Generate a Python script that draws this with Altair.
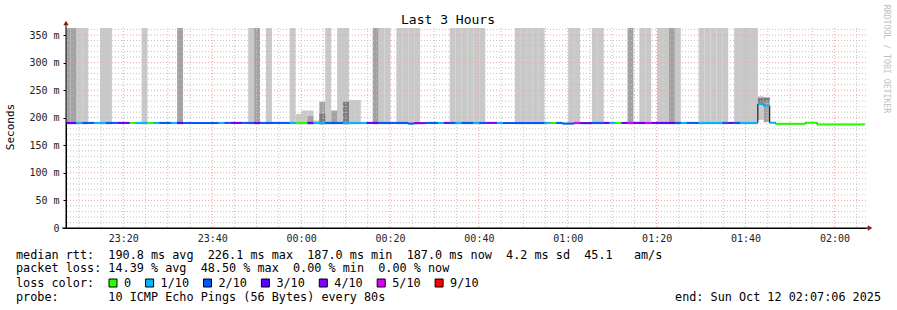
import altair as alt
import pandas as pd

# ---------------- data ----------------
RANGE_START = "2025-10-11 23:07:06"
RANGE_END = "2025-10-12 02:07:06"
STEP_ZERO = "2025-10-11 23:08:06"   # an 80 s rrd step boundary
STEP_SECONDS = 80
LAST_STEP = 134

LOSS_LABELS = ["0", "1/10", "2/10", "3/10", "4/10", "5/10", "9/10"]
LOSS_COLORS = ["#26ff00", "#00b8ff", "#0059ff", "#5e00ff", "#7e00ff", "#dd00ff", "#ff0000"]

# median rtt segments: first step index, loss, median (ms)
seg_step = [-1, 1, 2, 4, 6, 8, 10, 11, 13, 14, 15, 17, 18, 19, 25, 26, 27, 29, 31, 32,
            37, 38, 40, 41, 43, 46, 50, 52, 57, 58, 60, 62, 63, 64, 65, 66, 68, 69, 70, 72,
            73, 80, 81, 82, 83, 85, 86, 88, 90, 91, 92, 93, 94, 95, 97, 98, 102, 103, 104, 106,
            110, 111, 112, 113, 116, 117, 118, 119, 124, 126]
seg_loss = ["3/10", "1/10", "2/10", "1/10", "2/10", "3/10", "0", "1/10", "0", "1/10",
            "2/10", "1/10", "3/10", "2/10", "1/10", "2/10", "3/10", "2/10", "3/10", "2/10",
            "1/10", "0", "3/10", "1/10", "2/10", "1/10", "3/10", "2/10", "2/10", "4/10",
            "2/10", "1/10", "3/10", "2/10", "1/10", "2/10", "1/10", "2/10", "4/10", "1/10",
            "2/10", "1/10", "0", "2/10", "2/10", "5/10", "3/10", "2/10", "3/10", "1/10",
            "0", "3/10", "5/10", "3/10", "5/10", "3/10", "2/10", "1/10", "2/10", "1/10",
            "2/10", "3/10", "2/10", "1/10", "1/10", "1/10", "1/10", "0", "0", "0"]
seg_ms = [190.6, 190.6, 190.6, 190.6, 190.6, 190.6, 190.6, 190.6, 190.6, 190.6,
          190.6, 190.6, 190.6, 190.6, 190.6, 190.6, 190.6, 190.6, 190.6, 190.6,
          190.6, 190.6, 190.6, 190.6, 190.6, 190.6, 190.6, 190.6, 189.4, 190.2,
          190.6, 190.6, 190.6, 190.6, 190.6, 190.6, 190.6, 190.6, 190.6, 190.6,
          190.6, 190.6, 190.6, 190.6, 189.4, 190.6, 190.2, 190.6, 190.6, 190.6,
          190.6, 190.6, 190.6, 190.6, 190.6, 190.6, 190.6, 190.6, 190.6, 190.6,
          190.6, 190.6, 190.6, 190.6, 225.0, 222.0, 191.0, 189.0, 191.0, 187.8]

# smoke bands: step index, low (ms), high (ms), shade  (high 400 = off the top)
smoke_step = [-1, 0, 1, 2, 5, 6, 12, 18, 30, 31, 33, 37, 38, 39, 40, 40, 41, 42, 42, 43,
              44, 45, 46, 46, 47, 48, 51, 52, 53, 55, 56, 57, 58, 64, 65, 66, 67, 68, 69,
              75, 76, 77, 78, 79, 84, 85, 88, 89, 94, 96, 97, 99, 100, 101, 102,
              106, 107, 108, 109, 110, 112, 113, 114, 115, 116, 116, 117, 117]
smoke_lo = [188, 188, 188, 188, 188, 188, 188, 188, 188, 188, 188, 188, 188, 188, 188, 188, 188, 188, 188, 188,
            188, 188, 188, 188, 188, 188, 188, 188, 188, 188, 188, 188, 188, 188, 188, 188, 188, 188, 188,
            188, 188, 188, 188, 188, 188, 188, 188, 188, 188, 188, 188, 188, 188, 188, 188,
            188, 188, 188, 188, 188, 188, 188, 188, 188, 196, 227, 192, 228]
smoke_hi = [400, 400, 400, 400, 400, 400, 400, 400, 400, 400, 400, 400, 207, 213, 213, 203, 195, 229, 207, 400,
            213, 400, 400, 229, 232, 232, 400, 400, 400, 400, 400, 400, 400, 400, 400, 400, 400, 400, 400,
            400, 400, 400, 400, 400, 400, 400, 400, 400, 400, 400, 400, 400, 400, 400, 400,
            400, 400, 400, 400, 400, 400, 400, 400, 400, 239, 236, 237, 236]
smoke_shade = ["mid", "mid", "light", "light", "light", "light", "light", "mid", "light", "mid",
               "light", "light", "light", "light", "light", "mid", "light", "mid", "dark", "light",
               "mid", "light", "light", "dark", "light", "light", "mid", "light", "light", "light",
               "light", "light", "light", "light", "light", "light", "light", "light", "light",
               "light", "light", "light", "light", "light", "light", "light", "light", "light", "mid",
               "light", "light", "light", "light", "mid", "light",
               "light", "light", "light", "light", "light", "light", "light", "light", "light",
               "light", "dark", "mid", "dark"]

SHADES = ["light", "mid", "dark"]
SHADE_COLORS = ["#c9c9c9", "#a2a2a2", "#7d7d7d"]

Y_TOP = 362.7
Y_TICKS = [0, 50, 100, 150, 200, 250, 300, 350]

TITLE = "Last 3 Hours"
Y_TITLE = "Seconds"
WATERMARK = "RRDTOOL / TOBI OETIKER"
LINE_RTT = "median rtt:  190.8 ms avg  226.1 ms max  187.0 ms min  187.0 ms now  4.2 ms sd  45.1   am/s"
LINE_LOSS = "packet loss: 14.39 % avg  48.50 % max  0.00 % min  0.00 % now"
LINE_LOSSCOLOR = "loss color:"
LINE_PROBE = "probe:       10 ICMP Echo Pings (56 Bytes) every 80s"
LINE_END = "end: Sun Oct 12 02:07:06 2025"

# ---------------- tables ----------------
t_zero = pd.Timestamp(STEP_ZERO, tz="UTC")


def ms_of(ts):
    return int(pd.Timestamp(ts).value // 10**6)


def step_time(k):
    return ms_of(t_zero + pd.Timedelta(seconds=STEP_SECONDS * k))


ends = seg_step[1:] + [LAST_STEP]
med = pd.DataFrame({
    "t0": [step_time(k) for k in seg_step],
    "t1": [step_time(k) for k in ends],
    "ms": seg_ms,
    "loss": seg_loss,
})
line_pts = pd.concat([med[["t0", "ms"]],
                      pd.DataFrame({"t0": [step_time(LAST_STEP)], "ms": [seg_ms[-1]]})],
                     ignore_index=True)

smoke = pd.DataFrame({
    "t0": [step_time(k) for k in smoke_step],
    "t1": [step_time(k + 1) for k in smoke_step],
    "lo": smoke_lo,
    "hi": smoke_hi,
    "shade": smoke_shade,
})
smoke["rank"] = smoke["shade"].map({s: i for i, s in enumerate(SHADES)})
smoke = smoke.sort_values("rank", kind="stable")

minor_t = pd.date_range("2025-10-11 23:10", "2025-10-12 02:05", freq="5min", tz="UTC")
major_t = pd.date_range("2025-10-11 23:20", "2025-10-12 02:00", freq="20min", tz="UTC")
major_ms = [ms_of(t) for t in major_t]
vgrid_minor = pd.DataFrame({"t": [ms_of(t) for t in minor_t if ms_of(t) not in major_ms]})
vgrid_major = pd.DataFrame({"t": major_ms})
hgrid_minor = pd.DataFrame({"v": [v for v in range(10, 361, 10) if v % 50]})
hgrid_major = pd.DataFrame({"v": list(range(50, 351, 50))})

# ---------------- encodings ----------------
FONT = "DejaVu Sans Mono"
CHAR_W = 7.1
x_dom = [ms_of(pd.Timestamp(RANGE_START, tz="UTC")), ms_of(pd.Timestamp(RANGE_END, tz="UTC"))]

xscale = alt.Scale(type="utc", domain=x_dom, nice=False)
yscale = alt.Scale(domain=[0, Y_TOP], nice=False, zero=True)
xaxis = alt.Axis(labelExpr="utcFormat(datum.value, '%H:%M')", values=major_ms, grid=False,
                 tickSize=0, labelPadding=5, labelFont=FONT, labelFontSize=10, labelColor="#222",
                 domainColor="#000", domainWidth=1, labelFlush=False)
yaxis = alt.Axis(values=Y_TICKS, labelExpr="datum.value == 0 ? '0' : datum.value + ' m'",
                 grid=False, tickSize=3, tickColor="#000", labelPadding=4, labelFont=FONT,
                 labelFontSize=10, labelColor="#222", domainColor="#000", domainWidth=1)


def X(field):
    return alt.X(field, type="temporal", scale=xscale, axis=xaxis, title=None)


def Y(field):
    return alt.Y(field, type="quantitative", scale=yscale, axis=yaxis, title=None)


smoke_layer = alt.Chart(smoke).mark_rect(clip=True).encode(
    x=X("t0"), x2="t1", y=Y("lo"), y2="hi",
    color=alt.Color("shade:N", scale=alt.Scale(domain=SHADES, range=SHADE_COLORS), legend=None),
)

vminor = alt.Chart(vgrid_minor).mark_rule(stroke="#c4c4c4", strokeDash=[1, 2], strokeWidth=1).encode(x=X("t"))
vmajor = alt.Chart(vgrid_major).mark_rule(stroke="#f2a0a0", strokeDash=[1, 2], strokeWidth=1).encode(x=X("t"))
hminor = alt.Chart(hgrid_minor).mark_rule(stroke="#c4c4c4", strokeDash=[1, 2], strokeWidth=1).encode(y=Y("v"))
hmajor = alt.Chart(hgrid_major).mark_rule(stroke="#f2a0a0", strokeDash=[1, 2], strokeWidth=1).encode(y=Y("v"))

step_line = alt.Chart(line_pts).mark_line(interpolate="step-after", stroke="#000",
                                           strokeWidth=1, clip=True).encode(x=X("t0"), y=Y("ms"))

median_layer = alt.Chart(med).mark_rule(strokeWidth=2, strokeCap="butt", clip=True).encode(
    x=X("t0"), x2="t1", y=Y("ms"),
    stroke=alt.Stroke("loss:N", scale=alt.Scale(domain=LOSS_LABELS, range=LOSS_COLORS), legend=None),
)

dummy = pd.DataFrame({"k": [0]})
NBSP = "\u00a0"


def text(t, x, y, size=11.8, align="left", color="#000", angle=0):
    return alt.Chart(dummy).mark_text(text=t.replace(" ", NBSP), font=FONT, fontSize=size, align=align,
                                      baseline="middle", color=color, angle=angle).encode(
        x=alt.value(x), y=alt.value(y))


# loss colour key, laid out like rrdtool's legend row
key_layers = []
cursor = 43.0
KEY_Y = 255
for lab, col in zip(LOSS_LABELS, LOSS_COLORS):
    key_layers.append(
        alt.Chart(dummy).mark_square(size=64, fill=col, stroke="#000", strokeWidth=1, opacity=1)
        .encode(x=alt.value(cursor + 4), y=alt.value(KEY_Y)))
    key_layers.append(text(lab, cursor + 15, KEY_Y))
    cursor = cursor + 15 + len(lab) * CHAR_W + 14.5

arrow_up = alt.Chart(dummy).mark_point(shape="triangle-up", filled=True, size=28,
                                       color="#8b1a1a", opacity=1).encode(x=alt.value(0), y=alt.value(-5))
arrow_right = alt.Chart(dummy).mark_point(shape="triangle-right", filled=True, size=28,
                                          color="#8b1a1a", opacity=1).encode(x=alt.value(804), y=alt.value(200))
yline = alt.Chart(dummy).mark_rule(stroke="#000").encode(x=alt.value(0), y=alt.value(-5), y2=alt.value(200))
xline = alt.Chart(dummy).mark_rule(stroke="#000").encode(x=alt.value(-4), x2=alt.value(803), y=alt.value(200))

chart = alt.layer(
    smoke_layer, vminor, hminor, vmajor, hmajor, step_line, median_layer,
    yline, xline, arrow_up, arrow_right,
    text(TITLE, 382, -8, size=13, align="center"),
    text(Y_TITLE, -55, 99, size=11, angle=270, align="center"),
    text(WATERMARK, 820, 31, size=8.2, align="center", color="#c0c0c0", angle=90),
    text(LINE_RTT, -50, 227),
    text(LINE_LOSS, -50, 240),
    text(LINE_LOSSCOLOR, -50, 255),
    text(LINE_PROBE, -50, 269),
    text(LINE_END, 815, 269, align="right"),
    *key_layers,
).properties(
    width=800, height=200,
    autosize=alt.AutoSizeParams(type="none"),
    padding={"left": 66, "top": 28, "right": 31, "bottom": 82},
    background="#ffffff",
).configure_view(stroke=None)

chart.save("out.html", embed_options={"renderer": "svg", "actions": False})
